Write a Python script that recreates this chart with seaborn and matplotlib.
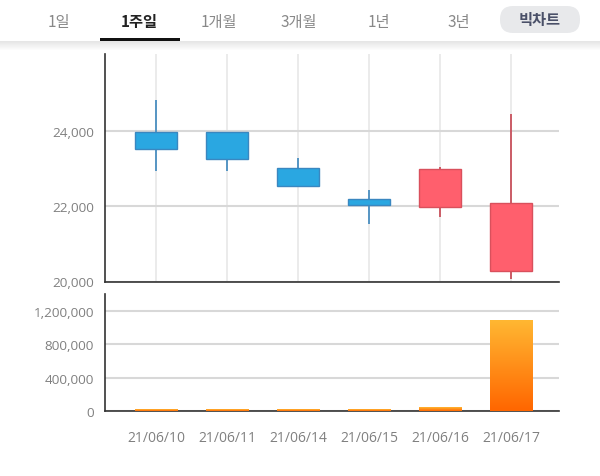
# -*- coding: utf-8 -*-
import numpy as np
import pandas as pd
import matplotlib.pyplot as plt
from matplotlib.colors import LinearSegmentedColormap
from matplotlib.patches import FancyBboxPatch, Rectangle
import seaborn as sns

# Data
dates = ['21/06/10', '21/06/11', '21/06/14', '21/06/15', '21/06/16', '21/06/17']
high = [24827, 23976, 23285, 22433, 23045, 24455]
low = [22947, 22947, 22548, 21529, 21707, 20066]
body_top = [23976, 23976, 23019, 22194, 22984, 22088]
body_bottom = [23532, 23258, 22548, 22043, 21981, 20271]
direction = ['down', 'down', 'down', 'down', 'up', 'up']
volume = [24000, 24000, 24000, 24000, 40000, 1092000]

price_ticks = [20000, 22000, 24000]
volume_ticks = [0, 400000, 800000, 1200000]
tab_labels = ['1일', '1주일', '1개월', '3개월', '1년', '3년']

W, H = 600, 477
sns.set_theme(style='white')
plt.rcParams['font.family'] = ['Noto Sans CJK KR', 'DejaVu Sans']

df = pd.DataFrame({'date': dates, 'top': body_top, 'bottom': body_bottom,
                   'direction': direction, 'volume': volume})
df['height'] = df['top'] - df['bottom']

fig = plt.figure(figsize=(W / 100, H / 100), dpi=100, facecolor='white')


def px_axes(left, top, right, bottom):
    return fig.add_axes([left / W, 1 - bottom / H, (right - left) / W, (bottom - top) / H])


def style_axes(ax):
    ax.set_xlim(-0.718, 5.676)
    ax.set_xlabel('')
    ax.set_ylabel('')
    ax.set_axisbelow(True)
    ax.yaxis.set_major_formatter(lambda v, pos: f'{int(v):,}')
    ax.tick_params(axis='y', length=0, pad=8, labelsize=9.7, labelcolor='#808080')
    for label in ax.get_xticklabels() + ax.get_yticklabels():
        label.set_fontfamily('Open Sans')
    for side in ['top', 'right']:
        ax.spines[side].set_visible(False)
    for side in ['left', 'bottom']:
        ax.spines[side].set_color('#333333')
        ax.spines[side].set_linewidth(1.2)


# Candles
ax1 = px_axes(105, 55, 559, 282.5)
candle_colors = {'down': ('#2aa7e1', '#3a87c0'), 'up': ('#ff5f6d', '#d9505c')}
for d, (face, edge) in candle_colors.items():
    sub = df[df['direction'] == d]
    sns.barplot(data=sub, x='date', y='height', bottom=sub['bottom'].values, order=dates,
                color=face, edgecolor=edge, linewidth=1, saturation=1, width=0.6,
                ax=ax1, zorder=3)
for i in range(len(dates)):
    ax1.vlines(i, low[i], high[i], color='#c8505c' if direction[i] == 'up' else '#4a8fc0',
               lw=1.3, zorder=2)
ax1.set_ylim(20000, 26050)
ax1.set_yticks(price_ticks)
ax1.grid(axis='both', color='#e8e8e8', lw=1.2)
for line in ax1.get_ygridlines():
    line.set_color('#d8d8d8')
    line.set_linewidth(1.5)
ax1.tick_params(axis='x', length=0, labelbottom=False)
style_axes(ax1)

# Volume
ax2 = px_axes(105, 295, 559, 412)
sns.barplot(data=df, x='date', y='volume', color='#ff8c1a', width=0.6, ax=ax2, zorder=3)
ax2.set_ylim(0, 1404000)
ax2.set_yticks(volume_ticks)
ax2.grid(axis='y', color='#d8d8d8', lw=1.5)
ax2.tick_params(axis='x', length=0, pad=14, labelsize=10, labelcolor='#808080')
style_axes(ax2)

# Bars get a vertical orange gradient
cmap = LinearSegmentedColormap.from_list('vol', ['#ff6600', '#ffb732'])
grad = np.linspace(0, 1, 128).reshape(-1, 1)
for patch in list(ax2.patches):
    x0, w, h = patch.get_x(), patch.get_width(), patch.get_height()
    if h <= 0:
        continue
    ax2.imshow(grad, cmap=cmap, origin='lower', aspect='auto', zorder=3,
               extent=[x0, x0 + w, 0, h])
    patch.set_visible(False)
ax2.set_xlim(-0.718, 5.676)
ax2.set_ylim(0, 1404000)

# Tab bar on top, drawn in pixel coordinates
top = fig.add_axes([0, 0, 1, 1], zorder=5)
top.patch.set_alpha(0)
top.imshow(np.linspace(0, 1, 10).reshape(-1, 1), cmap=LinearSegmentedColormap.from_list(
    'shadow', ['#e6e6e6', '#ffffff']), aspect='auto', extent=[0, W, 52, 42], zorder=1)
top.set_xlim(0, W)
top.set_ylim(H, 0)
top.axis('off')
tab_x = [59, 139, 219, 299, 379, 459]
for i, label in enumerate(tab_labels):
    active = i == 1
    top.text(tab_x[i], 22, label, ha='center', va='center', fontsize=11,
             color='#222222' if active else '#888888',
             fontweight='bold' if active else 'normal')
top.add_patch(Rectangle((100, 39), 80, 3, color='#111111', lw=0, zorder=2))
top.add_patch(FancyBboxPatch((500, 7), 80, 27, boxstyle='round,pad=0,rounding_size=13',
                             fc='#e8e9eb', ec='none', zorder=1))
top.text(540, 20, '빅차트', ha='center', va='center', fontsize=11, fontweight='bold',
         color='#4a5068', zorder=3)

plt.savefig('out.png', dpi=100)
